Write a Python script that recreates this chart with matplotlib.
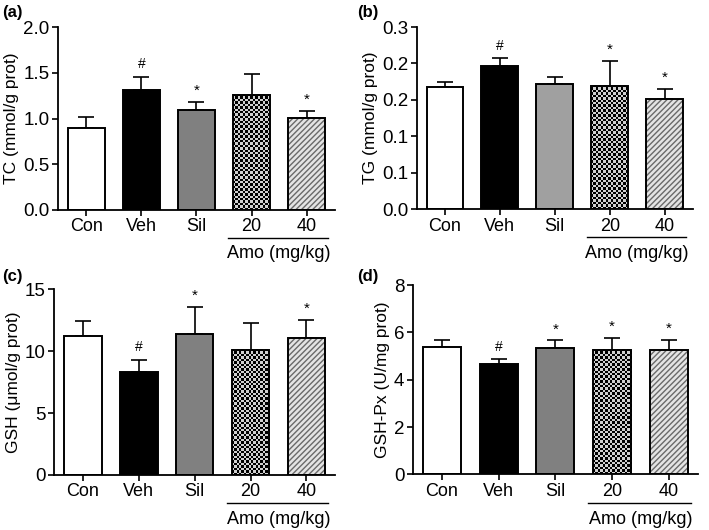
import matplotlib
matplotlib.use('Agg')
import matplotlib.pyplot as plt
import numpy as np
from matplotlib.colors import ListedColormap, to_rgba

plt.rcParams['font.family'] = ['Liberation Sans', 'DejaVu Sans']

groups = ['Con', 'Veh', 'Sil', '20', '40']

# (a) TC
tc_mean = [0.90, 1.31, 1.09, 1.26, 1.01]
tc_err = [0.12, 0.15, 0.09, 0.23, 0.07]
tc_marks = ['', '#', '*', '', '*']
tc_ticks = [0.0, 0.5, 1.0, 1.5, 2.0]
tc_ticklabels = ['0.0', '0.5', '1.0', '1.5', '2.0']

# (b) TG  (labels as printed on the original axis)
tg_mean = [0.168, 0.196, 0.172, 0.169, 0.151]
tg_err = [0.006, 0.011, 0.009, 0.034, 0.014]
tg_marks = ['', '#', '', '*', '*']
tg_ticks = [0.0, 0.05, 0.10, 0.15, 0.20, 0.25]
tg_ticklabels = ['0.0', '0.1', '0.1', '0.2', '0.2', '0.3']

# (c) GSH
gsh_mean = [11.2, 8.35, 11.4, 10.1, 11.1]
gsh_err = [1.2, 0.95, 2.2, 2.2, 1.45]
gsh_marks = ['', '#', '*', '', '*']
gsh_ticks = [0, 5, 10, 15]
gsh_ticklabels = ['0', '5', '10', '15']

# (d) GSH-Px
gpx_mean = [5.38, 4.65, 5.34, 5.25, 5.25]
gpx_err = [0.30, 0.21, 0.32, 0.50, 0.44]
gpx_marks = ['', '#', '*', '*', '*']
gpx_ticks = [0, 2, 4, 6, 8]
gpx_ticklabels = ['0', '2', '4', '6', '8']

panels = [
    ('(a)', 'TC (mmol/g prot)', tc_mean, tc_err, tc_marks, tc_ticks, tc_ticklabels, '#808080',
     [0.0818, 0.6038, 0.3907, 0.345]),
    ('(b)', 'TG (mmol/g prot)', tg_mean, tg_err, tg_marks, tg_ticks, tg_ticklabels, '#a0a0a0',
     [0.5877, 0.605, 0.3897, 0.344]),
    ('(c)', 'GSH (\u03bcmol/g prot)', gsh_mean, gsh_err, gsh_marks, gsh_ticks, gsh_ticklabels, '#808080',
     [0.0766, 0.1038, 0.396, 0.3504]),
    ('(d)', 'GSH-Px (U/mg prot)', gpx_mean, gpx_err, gpx_marks, gpx_ticks, gpx_ticklabels, '#808080',
     [0.582, 0.105, 0.4024, 0.357]),
]
label_xy = [(0.003, 0.977), (0.503, 0.976), (0.003, 0.479), (0.503, 0.479)]

fig = plt.figure(figsize=(7.09, 5.30), dpi=100)

x = np.arange(len(groups))
lw = 1.4

for (label, ylabel, mean, err, marks, ticks, ticklabels, silcolor, pos), lxy in zip(panels, label_xy):
    ax = fig.add_axes(pos)
    ax.set_xlim(-0.515, 4.515)
    ax.set_ylim(ticks[0], ticks[-1])

    faces = ['white', 'black', silcolor, 'none', '#e4e4e4']
    bars = ax.bar(x, mean, width=0.67, color=faces, edgecolor='black',
                  linewidth=lw, zorder=2)
    ax.errorbar(x, mean, yerr=[[0] * len(err), err], fmt='none', ecolor='black',
                elinewidth=1.2, capsize=6, capthick=1.2, zorder=1)

    # diagonal hatch on the 40 mg/kg bar
    hb = bars[4]
    hb.set_hatch('//////')
    if hasattr(hb, 'set_hatchcolor'):
        hb.set_hatchcolor('#6a6a6a')
    else:
        hb._hatch_color = to_rgba('#6a6a6a')

    # checkerboard on the 20 mg/kg bar
    cb = bars[3]
    ext = cb.get_window_extent(renderer=None)
    cell = 2.4
    nx = max(int(round(ext.width / cell)), 1)
    ny = max(int(round(ext.height / cell)), 1)
    board = np.indices((ny, nx)).sum(axis=0) % 2
    ax.imshow(board, extent=(cb.get_x(), cb.get_x() + cb.get_width(), 0, cb.get_height()),
              cmap=ListedColormap(['#d0d0d0', 'black']), interpolation='nearest',
              aspect='auto', origin='lower', zorder=1.5)
    ax.set_xlim(-0.515, 4.515)
    ax.set_ylim(ticks[0], ticks[-1])

    for xi, m, e, s in zip(x, mean, err, marks):
        if s:
            ax.annotate(s, (xi, m + e), xytext=(0, 4 if s == '#' else 3),
                        textcoords='offset points', ha='center', va='bottom',
                        fontsize=10 if s == '#' else 11)

    ax.set_yticks(ticks)
    ax.set_yticklabels(ticklabels, fontsize=13.5)
    ax.set_xticks(x)
    ax.set_xticklabels(groups, fontsize=13)
    ax.tick_params(direction='out', length=4, width=1.2, pad=2)
    ax.set_ylabel(ylabel, fontsize=12.5, labelpad=3)
    for sp in ['top', 'right']:
        ax.spines[sp].set_visible(False)
    for sp in ['left', 'bottom']:
        ax.spines[sp].set_linewidth(1.3)

    # Amo (mg/kg) group bracket
    tr = ax.get_xaxis_transform()
    ax.plot([2.58, 4.39], [-0.153, -0.153], color='black', lw=1.0,
            transform=tr, clip_on=False)
    ax.text(3.5, -0.24, 'Amo (mg/kg)', transform=tr, ha='center', va='center',
            fontsize=13)

    fig.text(lxy[0], lxy[1], label, fontsize=12, fontweight='bold',
             ha='left', va='center')

fig.savefig('out.png', dpi=100)
